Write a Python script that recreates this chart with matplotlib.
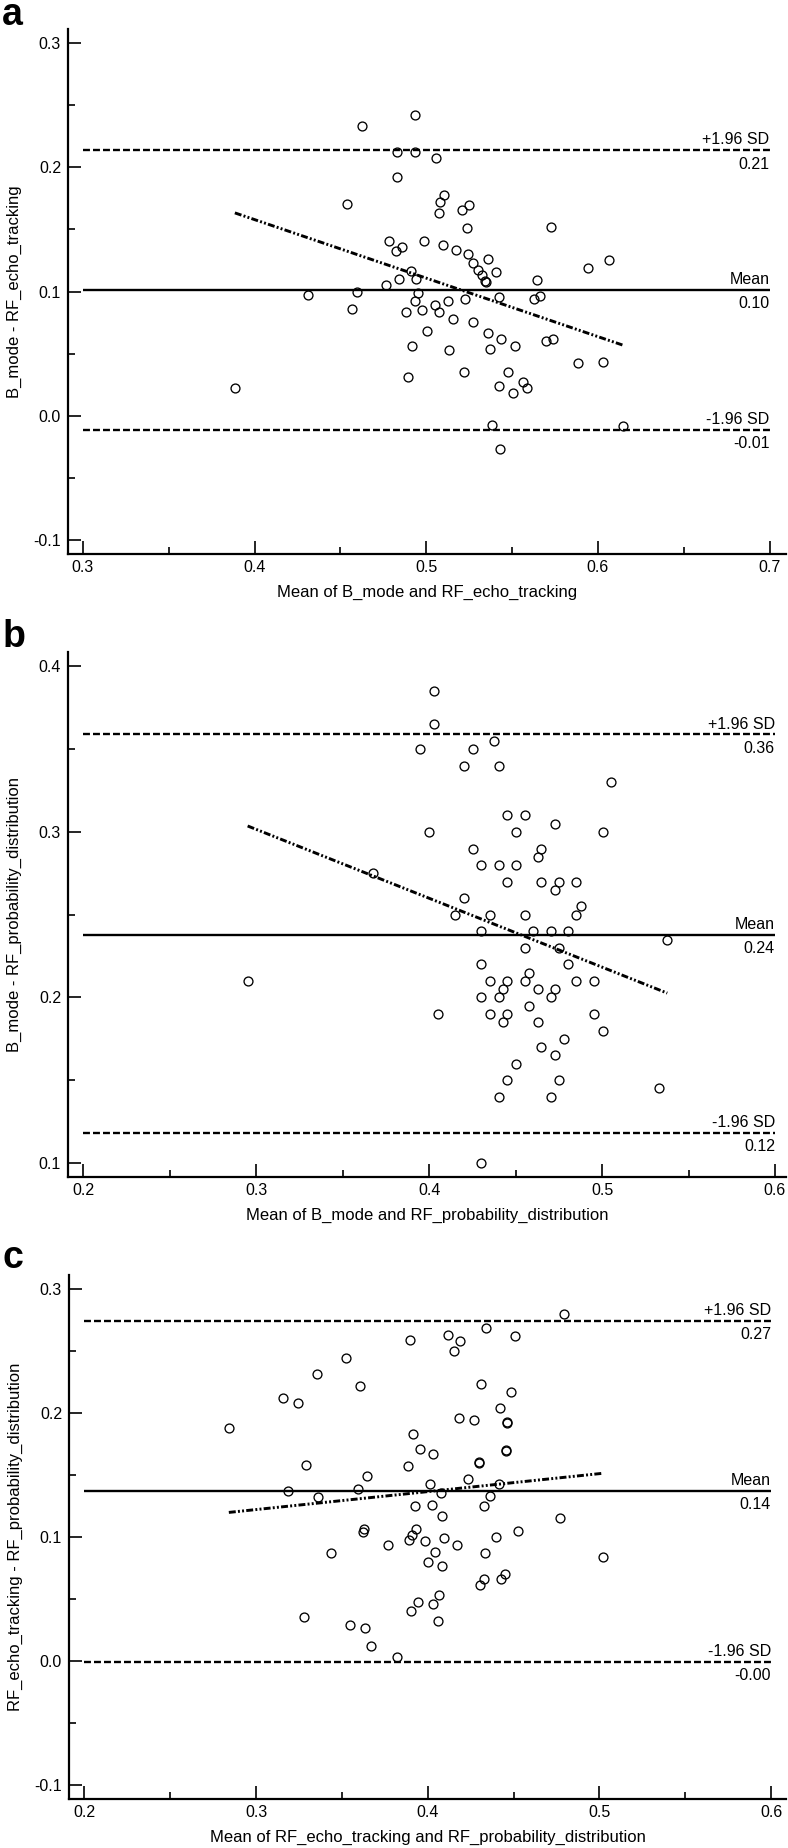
import numpy as np
import matplotlib
matplotlib.use("Agg")
import matplotlib.pyplot as plt
from matplotlib.ticker import MultipleLocator, FormatStrFormatter

plt.rcParams['font.family'] = ['Liberation Sans', 'DejaVu Sans']
plt.rcParams['axes.unicode_minus'] = False
plt.rcParams['lines.scale_dashes'] = False

# ---- panel a: B_mode vs RF_echo_tracking ----
a_mean = [0.4935, 0.4624, 0.4832, 0.4932, 0.5056, 0.4832, 0.4541, 0.5103, 0.5079, 0.5247,
          0.5209, 0.5076, 0.5235, 0.5729, 0.4785, 0.4988, 0.4859, 0.4826, 0.5100, 0.5174,
          0.5241, 0.5359, 0.6065, 0.5274, 0.5944, 0.5303, 0.5409, 0.4909, 0.5326, 0.4841,
          0.4938, 0.5344, 0.5350, 0.5647, 0.4765, 0.4597, 0.4309, 0.4953, 0.5421, 0.5629,
          0.5665, 0.5226, 0.5129, 0.4932, 0.5053, 0.4565, 0.4882, 0.4974, 0.5076, 0.5156,
          0.5271, 0.5006, 0.5362, 0.5435, 0.5697, 0.5741, 0.4918, 0.5132, 0.5374, 0.5515,
          0.5885, 0.6029, 0.5221, 0.5474, 0.4891, 0.5562, 0.5426, 0.5588, 0.5506, 0.3885,
          0.5385, 0.6144, 0.5429]
a_diff = [0.2419, 0.2335, 0.2122, 0.2122, 0.2078, 0.1924, 0.1703, 0.1776, 0.1722, 0.1695,
          0.1657, 0.1632, 0.1514, 0.1522, 0.1411, 0.1411, 0.1359, 0.1330, 0.1378, 0.1332,
          0.1300, 0.1262, 0.1251, 0.1227, 0.1189, 0.1173, 0.1157, 0.1162, 0.1130, 0.1103,
          0.1100, 0.1086, 0.1073, 0.1092, 0.1051, 0.1000, 0.0968, 0.0989, 0.0954, 0.0938,
          0.0962, 0.0941, 0.0927, 0.0927, 0.0892, 0.0860, 0.0833, 0.0849, 0.0836, 0.0780,
          0.0753, 0.0683, 0.0667, 0.0618, 0.0602, 0.0618, 0.0562, 0.0532, 0.0540, 0.0562,
          0.0422, 0.0430, 0.0352, 0.0352, 0.0309, 0.0269, 0.0239, 0.0220, 0.0180, 0.0220,
          -0.0078, -0.0086, -0.0272]
a_limits = [0.2138, 0.1016, -0.0113]   # +1.96 SD, mean, -1.96 SD
a_fit = [-0.4714, 0.3465]              # slope, intercept

# ---- panel b: B_mode vs RF_probability_distribution ----
b_mean = [0.4026, 0.4026, 0.4377, 0.3947, 0.4251, 0.4199, 0.4401, 0.5053, 0.4453, 0.4553,
          0.4725, 0.4000, 0.4503, 0.5003, 0.4251, 0.4649, 0.4629, 0.4301, 0.4401, 0.4503,
          0.3675, 0.4453, 0.4649, 0.4751, 0.4851, 0.4725, 0.4199, 0.4877, 0.4149, 0.4351,
          0.4553, 0.4851, 0.4301, 0.4602, 0.4702, 0.4801, 0.5377, 0.4553, 0.4751, 0.4301,
          0.4801, 0.4579, 0.2950, 0.4351, 0.4453, 0.4553, 0.4851, 0.4953, 0.4427, 0.4629,
          0.4725, 0.4301, 0.4401, 0.4702, 0.4579, 0.4050, 0.4351, 0.4453, 0.4953, 0.4427,
          0.4629, 0.5003, 0.4778, 0.4649, 0.4725, 0.4503, 0.4453, 0.4751, 0.5327, 0.4401,
          0.4702, 0.4301]
b_diff = [0.385, 0.365, 0.355, 0.350, 0.350, 0.340, 0.340, 0.330, 0.310, 0.310,
          0.305, 0.300, 0.300, 0.300, 0.290, 0.290, 0.285, 0.280, 0.280, 0.280,
          0.275, 0.270, 0.270, 0.270, 0.270, 0.265, 0.260, 0.255, 0.250, 0.250,
          0.250, 0.250, 0.240, 0.240, 0.240, 0.240, 0.235, 0.230, 0.230, 0.220,
          0.220, 0.215, 0.210, 0.210, 0.210, 0.210, 0.210, 0.210, 0.205, 0.205,
          0.205, 0.200, 0.200, 0.200, 0.195, 0.190, 0.190, 0.190, 0.190, 0.185,
          0.185, 0.180, 0.175, 0.170, 0.165, 0.160, 0.150, 0.150, 0.145, 0.140,
          0.140, 0.100]
b_limits = [0.359, 0.238, 0.118]
b_fit = [-0.4162, 0.4264]

# ---- panel c: RF_echo_tracking vs RF_probability_distribution ----
c_mean = [0.4794, 0.4338, 0.4118, 0.4509, 0.3897, 0.4188, 0.4150, 0.3521, 0.3356, 0.4312,
          0.3606, 0.4485, 0.3159, 0.3241, 0.4418, 0.4179, 0.4268, 0.4459, 0.4462, 0.2841,
          0.3915, 0.3956, 0.4453, 0.4456, 0.4032, 0.4300, 0.4300, 0.3288, 0.3885, 0.3644,
          0.4232, 0.4015, 0.4412, 0.3185, 0.3591, 0.4079, 0.3362, 0.4362, 0.3924, 0.4026,
          0.4326, 0.4082, 0.4771, 0.3626, 0.3620, 0.3929, 0.3906, 0.4524, 0.4400, 0.4094,
          0.3888, 0.3985, 0.3768, 0.4168, 0.5018, 0.3435, 0.4041, 0.4332, 0.4000, 0.4085,
          0.4447, 0.4429, 0.4329, 0.4303, 0.4068, 0.3941, 0.4029, 0.3900, 0.3279, 0.4062,
          0.3544, 0.3632, 0.3668, 0.3818]
c_diff = [0.2793, 0.2683, 0.2629, 0.2621, 0.2586, 0.2578, 0.2500, 0.2438, 0.2309, 0.2231,
          0.2218, 0.2167, 0.2118, 0.2081, 0.2038, 0.1957, 0.1941, 0.1927, 0.1914, 0.1879,
          0.1831, 0.1710, 0.1704, 0.1691, 0.1667, 0.1605, 0.1598, 0.1578, 0.1570, 0.1489,
          0.1468, 0.1427, 0.1425, 0.1368, 0.1387, 0.1358, 0.1320, 0.1331, 0.1250, 0.1261,
          0.1250, 0.1169, 0.1156, 0.1062, 0.1040, 0.1065, 0.1016, 0.1048, 0.1003, 0.0989,
          0.0976, 0.0968, 0.0938, 0.0938, 0.0839, 0.0871, 0.0879, 0.0871, 0.0801, 0.0769,
          0.0702, 0.0659, 0.0659, 0.0610, 0.0530, 0.0478, 0.0457, 0.0401, 0.0358, 0.0320,
          0.0288, 0.0269, 0.0126, 0.0032]
c_limits = [0.274, 0.137, -0.0003]
c_fit = [0.1446, 0.0787]

limit_names = ['+1.96 SD', 'Mean', '-1.96 SD']

fig = plt.figure(figsize=(7.88, 18.48), dpi=100)


def bland_altman(rect, xlim, ylim, xticks, yticks, mean, diff, limits, fit,
                 xlabel, ylabel, letter, letter_y):
    ax = fig.add_axes(rect)
    mean = np.asarray(mean)
    diff = np.asarray(diff)

    # limits of agreement and mean difference
    for name, level in zip(limit_names, limits):
        ls = '-' if name == 'Mean' else (0, (5, 2.2))
        ax.hlines(level, xticks[0], xticks[-1], colors='black', linewidth=1.7, linestyles=[ls])
        ax.annotate(name, (xticks[-1], level), xytext=(0, 2), textcoords='offset points',
                    ha='right', va='bottom', fontsize=11.5)
        ax.annotate('%.2f' % level, (xticks[-1], level), xytext=(0, -4.5),
                    textcoords='offset points', ha='right', va='top', fontsize=11.5)

    # regression of difference on mean
    xs = np.array([mean.min(), mean.max()])
    ax.plot(xs, fit[0] * xs + fit[1], color='black', linewidth=2.1,
            linestyle=(0, (5, 1.6, 1.4, 1.6, 1.4, 1.6)))

    ax.plot(mean, diff, 'o', markersize=6.4, markerfacecolor='none',
            markeredgecolor='black', markeredgewidth=0.95)

    ax.set_xlim(*xlim)
    ax.set_ylim(*ylim)
    ax.set_xticks(xticks)
    ax.set_yticks(yticks)
    ax.xaxis.set_minor_locator(MultipleLocator(0.05))
    ax.yaxis.set_minor_locator(MultipleLocator(0.05))
    ax.xaxis.set_major_formatter(FormatStrFormatter('%.1f'))
    ax.yaxis.set_major_formatter(FormatStrFormatter('%.1f'))
    ax.tick_params(which='major', direction='in', length=9.5, width=1.2, labelsize=11.5)
    ax.tick_params(which='minor', direction='in', length=5, width=1.2)
    ax.tick_params(axis='y', pad=5)
    ax.tick_params(axis='x', pad=4.5)

    for side in ['top', 'right']:
        ax.spines[side].set_visible(False)
    for side in ['left', 'bottom']:
        ax.spines[side].set_linewidth(1.6)

    ax.set_xlabel(xlabel, fontsize=12)
    ax.set_ylabel(ylabel, fontsize=12)
    ax.xaxis.set_label_coords(0.5, -0.059)
    ax.yaxis.set_label_coords(-0.064, 0.5)

    fig.text(0.003, letter_y, letter, fontsize=27, fontweight='bold', va='baseline')
    return ax


bland_altman([0.0863, 0.7002, 0.9112, 0.2841], (0.2913, 0.7096), (-0.1115, 0.3115),
             [0.3, 0.4, 0.5, 0.6, 0.7], [-0.1, 0.0, 0.1, 0.2, 0.3],
             a_mean, a_diff, a_limits, a_fit,
             'Mean of B_mode and RF_echo_tracking', 'B_mode - RF_echo_tracking', 'a', 0.9865)

bland_altman([0.0863, 0.3633, 0.9112, 0.2841], (0.1911, 0.6064), (0.0917, 0.409),
             [0.2, 0.3, 0.4, 0.5, 0.6], [0.1, 0.2, 0.3, 0.4],
             b_mean, b_diff, b_limits, b_fit,
             'Mean of B_mode and RF_probability_distribution', 'B_mode - RF_probability_distribution',
             'b', 0.6499)

bland_altman([0.0876, 0.0265, 0.9099, 0.2836], (0.191, 0.6087), (-0.111, 0.311),
             [0.2, 0.3, 0.4, 0.5, 0.6], [-0.1, 0.0, 0.1, 0.2, 0.3],
             c_mean, c_diff, c_limits, c_fit,
             'Mean of RF_echo_tracking and RF_probability_distribution',
             'RF_echo_tracking - RF_probability_distribution', 'c', 0.3139)

fig.savefig('out.png', dpi=100)
